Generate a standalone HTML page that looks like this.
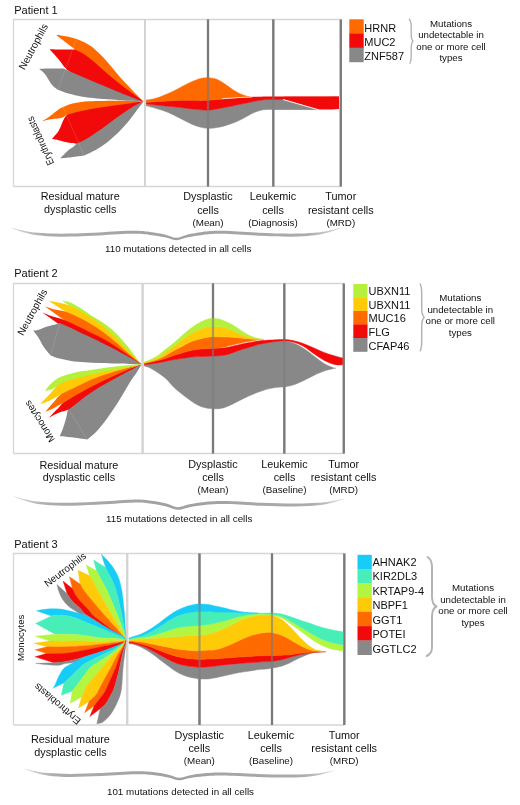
<!DOCTYPE html>
<html><head><meta charset="utf-8"><title>figure</title>
<style>
html,body{margin:0;padding:0;background:#fff;}
body{width:520px;height:805px;overflow:hidden;font-family:"Liberation Sans",sans-serif;}
svg{display:block;will-change:transform;}
text{font-family:"Liberation Sans",sans-serif;fill:#111;}
</style></head><body>
<svg width="520" height="805" viewBox="0 0 520 805">
<path d="M340.8 19.5V19.5H13.5V186.5" fill="none" stroke="#d6d6d6" stroke-width="1.3"/><path d="M13.5 186.5H340.8" fill="none" stroke="#d6d6d6" stroke-width="1.3"/><path d="M145 19.5V186.5" stroke="#d4d4d4" stroke-width="2"/><path d="M208 19.5V186.5" stroke="#7a7a7a" stroke-width="2.2"/><path d="M273.3 19.5V186.5" stroke="#7a7a7a" stroke-width="2.2"/><path d="M340.8 19.5V186.5" stroke="#7a7a7a" stroke-width="2.2"/>
<path d="M343.8 283.5V283.5H13.5V453.5" fill="none" stroke="#d6d6d6" stroke-width="1.3"/><path d="M13.5 453.5H343.8" fill="none" stroke="#d6d6d6" stroke-width="1.3"/><path d="M142.5 283.5V453.5" stroke="#d4d4d4" stroke-width="2"/><path d="M213 283.5V453.5" stroke="#7a7a7a" stroke-width="2.2"/><path d="M284.3 283.5V453.5" stroke="#7a7a7a" stroke-width="2.2"/><path d="M343.8 283.5V453.5" stroke="#7a7a7a" stroke-width="2.2"/>
<path d="M344.3 553.5V553.5H13.5V725.0" fill="none" stroke="#d6d6d6" stroke-width="1.3"/><path d="M13.5 725.0H344.3" fill="none" stroke="#d6d6d6" stroke-width="1.3"/><path d="M127 553.5V725.0" stroke="#d4d4d4" stroke-width="2"/><path d="M199.5 553.5V725.0" stroke="#7a7a7a" stroke-width="2.2"/><path d="M272 553.5V725.0" stroke="#7a7a7a" stroke-width="2.2"/><path d="M344.3 553.5V725.0" stroke="#7a7a7a" stroke-width="2.2"/>
<path d="M143.6 101.6C142.53 100.55 139.73 97.9 137.2 95.3C134.67 92.7 131.42 89.22 128.4 86C125.38 82.78 122.25 79.57 119.1 76C115.95 72.43 112.7 68.25 109.5 64.6C106.3 60.95 103.15 57.27 99.9 54.1C96.65 50.93 93.35 47.92 90 45.6C86.65 43.28 83.23 41.65 79.8 40.2C76.37 38.75 73.4 37.82 69.4 36.9C65.4 35.98 58.07 35.07 55.8 34.7L75 49.5C80 54.92 93.57 73.32 105 82C116.43 90.68 137.17 98.33 143.6 101.6Z" fill="#ff6a00"/>
<path d="M143.6 101.6C141.78 100.25 136.12 96.03 132.7 93.5C129.28 90.97 126.3 88.85 123.1 86.4C119.9 83.95 116.72 81.45 113.5 78.8C110.28 76.15 107.02 73.3 103.8 70.5C100.58 67.7 97.4 64.65 94.2 62C91 59.35 87.8 56.68 84.6 54.6C81.4 52.52 76.6 50.35 75 49.5C72.75 49.5 65.73 49.55 61.5 49.5C57.27 49.45 51.58 49.25 49.6 49.2C50.37 50.03 52.72 52.52 54.2 54.2C55.68 55.88 57.07 57.5 58.5 59.3C59.93 61.1 61.38 63.22 62.8 65C64.22 66.78 66.3 69.17 67 70C73.33 73.83 92.23 87.73 105 93C117.77 98.27 137.17 100.17 143.6 101.6Z" fill="#f20a0a"/>
<path d="M143.6 101.6C142.33 101.17 138.27 99.83 136 99C133.73 98.17 132.67 97.68 130 96.6C127.33 95.52 123.72 94.03 120 92.5C116.28 90.97 111.67 89.03 107.7 87.4C103.73 85.77 100.05 84.3 96.2 82.7C92.35 81.1 88.45 79.45 84.6 77.8C80.75 76.15 76.62 74.37 73.1 72.8C69.58 71.23 65.1 69.13 63.5 68.4C61 68.43 52.55 68.5 48.5 68.6C44.45 68.7 40.75 68.93 39.2 69C40.07 69.73 42.88 71.7 44.4 73.4C45.92 75.1 47.02 77.28 48.3 79.2C49.58 81.12 50.53 83.13 52.1 84.9C53.67 86.67 56.77 88.98 57.7 89.8C58.58 90.12 60.88 90.98 63 91.7C65.12 92.42 67.57 93.33 70.4 94.1C73.23 94.87 76.73 95.68 80 96.3C83.27 96.92 86.03 97.33 90 97.8C93.97 98.27 98.93 98.7 103.8 99.1C108.67 99.5 114.83 99.92 119.2 100.2C123.57 100.48 125.93 100.57 130 100.8C134.07 101.03 141.33 101.47 143.6 101.6Z" fill="#888888"/>
<path d="M143.6 101.6C136.33 104.33 111.23 110.95 100 118C88.77 125.05 81.52 138.5 76.2 143.9C70.88 149.3 70.8 147.97 68.1 150.4C65.4 152.83 61.35 157.15 60 158.5C61.92 158.3 67.47 157.8 71.5 157.3C75.53 156.8 82.08 155.8 84.2 155.5C86.32 154.45 92.85 151.58 96.9 149.2C100.95 146.82 104.65 144.27 108.5 141.2C112.35 138.13 116.55 134.27 120 130.8C123.45 127.33 126.5 123.67 129.2 120.4C131.9 117.13 133.8 114.33 136.2 111.2C138.6 108.07 142.37 103.2 143.6 101.6Z" fill="#888888"/>
<path d="M143.6 101.6C136.33 101.83 112.78 100.83 100 103C87.22 105.17 72.42 112.67 66.9 114.6C66.37 115.43 64.72 117.67 63.7 119.6C62.68 121.53 61.77 124.15 60.8 126.2C59.83 128.25 59.38 129.8 57.9 131.9C56.42 134 52.9 137.65 51.9 138.8C53.15 139.07 56.55 139.75 59.4 140.4C62.25 141.05 66.15 142.15 69 142.7C71.85 143.25 75.25 143.53 76.5 143.7C77.67 143.18 81.08 141.88 83.5 140.6C85.92 139.32 88.38 137.67 91 136C93.62 134.33 95.9 132.93 99.2 130.6C102.5 128.27 106.95 124.8 110.8 122C114.65 119.2 118.47 116.42 122.3 113.8C126.13 111.18 130.25 108.33 133.8 106.3C137.35 104.27 141.97 102.38 143.6 101.6Z" fill="#f20a0a"/>
<path d="M143.6 101.6C141.33 101.48 134.07 101.03 130 100.9C125.93 100.77 123.57 100.8 119.2 100.8C114.83 100.8 108.92 100.82 103.8 100.9C98.68 100.98 93.3 100.95 88.5 101.3C83.7 101.65 78.53 102.35 75 103C71.47 103.65 69.73 104.32 67.3 105.2C64.87 106.08 62.58 107.03 60.4 108.3C58.22 109.57 56.13 111.33 54.2 112.8C52.27 114.27 50.83 115.67 48.8 117.1C46.77 118.53 43.13 120.68 42 121.4C43.4 121.05 47.72 119.78 50.4 119.3C53.08 118.82 55.92 118.9 58.1 118.5C60.28 118.1 61.97 117.55 63.5 116.9C65.03 116.25 66.67 114.98 67.3 114.6C68.75 114.2 72.22 113.08 76 112.2C79.78 111.32 85.9 110.07 90 109.3C94.1 108.53 97.07 108.15 100.6 107.6C104.13 107.05 107.68 106.53 111.2 106C114.72 105.47 118.18 104.92 121.7 104.4C125.22 103.88 128.65 103.37 132.3 102.9C135.95 102.43 141.72 101.82 143.6 101.6Z" fill="#ff6a00"/>
<path d="M76.2 40L57.7 89.6" stroke="#fff" stroke-opacity=".12" stroke-width="1" fill="none"/>
<path d="M62.3 105.4L84.2 155.5" stroke="#fff" stroke-opacity=".12" stroke-width="1" fill="none"/>
<path d="M146.2 104C149.02 104.3 157.4 105.22 163.1 105.8C168.8 106.38 175.08 106.92 180.4 107.5C185.72 108.08 190.57 108.85 195 109.3C199.43 109.75 203.33 110.27 207 110.2C210.67 110.13 212.4 109.68 217 108.9C221.6 108.12 229.1 106.6 234.6 105.5C240.1 104.4 245.77 103.17 250 102.3C254.23 101.43 257 100.75 260 100.3C263 99.85 265.73 99.73 268 99.6C270.27 99.47 270.93 99.47 273.6 99.5C276.27 99.53 282.27 99.75 284 99.8L318 109.6C313.33 109.58 298.33 109.52 290 109.5C281.67 109.48 273 109.33 268 109.5C263 109.67 262.67 109.83 260 110.5C257.33 111.17 254.83 112.17 252 113.5C249.17 114.83 245.83 117.03 243 118.5C240.17 119.97 237.83 121.15 235 122.3C232.17 123.45 228.5 124.62 226 125.4C223.5 126.18 222 126.57 220 127C218 127.43 216.17 127.78 214 128C211.83 128.22 209.33 128.45 207 128.3C204.67 128.15 202.52 127.78 200 127.1C197.48 126.42 195.17 125.63 191.9 124.2C188.63 122.77 184.25 120.42 180.4 118.5C176.55 116.58 172.65 114.33 168.8 112.7C164.95 111.07 161.07 109.85 157.3 108.7C153.53 107.55 148.05 106.28 146.2 105.8Z" fill="#888888" stroke="#888888" stroke-width=".5"/>
<path d="M273.6 99.5L284 99.8L318 109.6L273.6 109.6Z" fill="#888888"/>
<path d="M146.2 102.3C149.02 102.12 157.4 101.53 163.1 101.2C168.8 100.87 173.08 100.45 180.4 100.3C187.72 100.15 199.4 100.55 207 100.3C214.6 100.05 220.5 99.22 226 98.8C231.5 98.38 235.92 98.07 240 97.8C244.08 97.53 246.83 97.35 250.5 97.2C254.17 97.05 258.25 96.97 262 96.9C265.75 96.83 260.17 96.82 273 96.8C285.83 96.78 328 96.8 339 96.8L284 99.6C282.27 99.58 276.27 99.5 273.6 99.5C270.93 99.5 270.27 99.47 268 99.6C265.73 99.73 263 99.85 260 100.3C257 100.75 254.23 101.43 250 102.3C245.77 103.17 240.1 104.4 234.6 105.5C229.1 106.6 221.6 108.12 217 108.9C212.4 109.68 210.67 110.13 207 110.2C203.33 110.27 199.43 109.75 195 109.3C190.57 108.85 185.72 108.08 180.4 107.5C175.08 106.92 168.8 106.38 163.1 105.8C157.4 105.22 149.02 104.3 146.2 104Z" fill="#f20a0a" stroke="#f20a0a" stroke-width=".5"/>
<path d="M284 96.8L339 96.8L339 108.9C333 109.4 326 109.6 318 109.4L284 99.6Z" fill="#f20a0a"/>
<path d="M146.2 100C146.83 99.93 148.15 99.97 150 99.6C151.85 99.23 154.17 98.87 157.3 97.8C160.43 96.73 164.95 94.93 168.8 93.2C172.65 91.47 176.87 89.18 180.4 87.4C183.93 85.62 187.15 83.83 190 82.5C192.85 81.17 195.33 80.13 197.5 79.4C199.67 78.67 201.33 78.37 203 78.1C204.67 77.83 206 77.78 207.5 77.8C209 77.82 210.37 77.92 212 78.2C213.63 78.48 214.97 78.42 217.3 79.5C219.63 80.58 223.12 82.82 226 84.7C228.88 86.58 231.72 89.07 234.6 90.8C237.48 92.53 240.65 94.07 243.3 95.1C245.95 96.13 249.3 96.68 250.5 97L250.5 97C248.75 97.07 244.08 97.17 240 97.4C235.92 97.63 231.5 97.92 226 98.4C220.5 98.88 214.6 99.98 207 100.3C199.4 100.62 187.72 100.15 180.4 100.3C173.08 100.45 168.8 100.87 163.1 101.2C157.4 101.53 149.02 102.12 146.2 102.3Z" fill="#ff6a00" stroke="#ff6a00" stroke-width=".5"/>
<path d="M283 99.5L319 109.9" stroke="#fff" stroke-width=".9" fill="none"/>
<path d="M222 98.8C232 98 242 97.3 252 96.9" stroke="#fff" stroke-width=".7" fill="none"/>
<path d="M141.5 364.2C141.05 363.72 140.2 363.03 138.8 361.3C137.4 359.57 135.2 356.58 133.1 353.8C131 351.02 129.28 348.25 126.2 344.6C123.12 340.95 118.45 335.55 114.6 331.9C110.75 328.25 106.95 325.38 103.1 322.7C99.25 320.02 94.9 317.98 91.5 315.8C88.1 313.62 86.08 311.78 82.7 309.6C79.32 307.42 74.67 304.23 71.2 302.7C67.73 301.17 63.45 300.78 61.9 300.4L75 310C80 315 93.92 330.97 105 340C116.08 349.03 135.42 360.17 141.5 364.2Z" fill="#b4f03c"/>
<path d="M141.5 364.2C140.42 363.08 137.55 360.08 135 357.5C132.45 354.92 129.6 352.2 126.2 348.7C122.8 345.2 118.45 340.25 114.6 336.5C110.75 332.75 106.95 329.27 103.1 326.2C99.25 323.13 94.9 320.38 91.5 318.1C88.1 315.82 86.08 314.48 82.7 312.5C79.32 310.52 75.05 307.83 71.2 306.2C67.35 304.57 63.45 303.67 59.6 302.7C55.75 301.73 50.02 300.78 48.1 300.4L66 312C72.5 317 92.42 333.3 105 342C117.58 350.7 135.42 360.5 141.5 364.2Z" fill="#ffca08"/>
<path d="M141.5 364.2C140.42 363.33 137.55 361.12 135 359C132.45 356.88 129.6 354.47 126.2 351.5C122.8 348.53 118.45 344.47 114.6 341.2C110.75 337.93 106.95 334.7 103.1 331.9C99.25 329.1 95.35 326.7 91.5 324.4C87.65 322.1 84.17 320.18 80 318.1C75.83 316.02 70.67 313.32 66.5 311.9C62.33 310.48 58.65 310.55 55 309.6C51.35 308.65 46.33 306.77 44.6 306.2L64 320C70.83 324.67 92.08 340.63 105 348C117.92 355.37 135.42 361.5 141.5 364.2Z" fill="#ff6a00"/>
<path d="M141.5 364.2C140.42 363.5 137.55 361.73 135 360C132.45 358.27 129.6 356.17 126.2 353.8C122.8 351.43 118.45 348.3 114.6 345.8C110.75 343.3 106.95 340.92 103.1 338.8C99.25 336.68 95.35 335.02 91.5 333.1C87.65 331.18 84.55 329.48 80 327.3C75.45 325.12 68.75 321.8 64.2 320C59.65 318.2 56.35 317.77 52.7 316.5C49.05 315.23 44.03 313.08 42.3 312.4L60 325C67.5 329.5 91.42 345.47 105 352C118.58 358.53 135.42 362.17 141.5 364.2Z" fill="#f20a0a"/>
<path d="M141.5 364.2C140.48 363.63 137.95 362.23 135.4 360.8C132.85 359.37 129.67 357.53 126.2 355.6C122.73 353.67 118.45 351.22 114.6 349.2C110.75 347.18 106.95 345.42 103.1 343.5C99.25 341.58 95.35 339.53 91.5 337.7C87.65 335.87 83.38 334.1 80 332.5C76.62 330.9 74.6 329.68 71.2 328.1C67.8 326.52 61.53 323.85 59.6 323C57.68 323.97 51.57 325.27 48.1 326.3C44.63 327.33 41.3 328.98 38.8 329.7C36.3 330.42 34.05 330.45 33.1 330.6C34.05 331.87 37.07 335.53 38.8 338.2C40.53 340.87 41.55 343.73 43.5 346.6C45.45 349.47 49.33 353.93 50.5 355.4C52.02 355.93 56.15 357.67 59.6 358.6C63.05 359.53 66.97 360.38 71.2 361C75.43 361.62 80.2 361.95 85 362.3C89.8 362.65 94.62 362.88 100 363.1C105.38 363.32 112.3 363.47 117.3 363.6C122.3 363.73 125.97 363.8 130 363.9C134.03 364 139.58 364.15 141.5 364.2Z" fill="#888888"/>
<path d="M141.5 364.2C137.47 366 125.18 371.03 117.3 375C109.42 378.97 99.97 384.5 94.2 388C88.43 391.5 87.07 392.67 82.7 396C78.33 399.33 70.45 406 68 408C67.75 409.42 67.22 413.47 66.5 416.5C65.78 419.53 64.82 422.9 63.7 426.2C62.58 429.5 60.45 434.62 59.8 436.3C61.7 436.47 66.62 436.75 71.2 437.3C75.78 437.85 84.62 439.22 87.3 439.6C88.83 438.25 93.22 435.02 96.5 431.5C99.78 427.98 103.33 423.5 107 418.5C110.67 413.5 114.75 407.42 118.5 401.5C122.25 395.58 126.37 388 129.5 383C132.63 378 135.3 374.63 137.3 371.5C139.3 368.37 140.8 365.42 141.5 364.2Z" fill="#888888"/>
<path d="M141.5 364.2C135.55 366.42 115.6 373.37 105.8 377.5C96 381.63 89.25 385.33 82.7 389C76.15 392.67 70.48 396.43 66.5 399.5C62.52 402.57 60.88 405.28 58.8 407.4C56.72 409.52 55.6 410.52 54 412.2C52.4 413.88 50 416.62 49.2 417.5C50.8 416.7 55.67 413.98 58.8 412.7C61.93 411.42 65.58 410.92 68 409.8C70.42 408.68 71.3 407.52 73.3 406C75.3 404.48 76.52 403.28 80 400.7C83.48 398.12 87.98 394.4 94.2 390.5C100.42 386.6 109.42 381.68 117.3 377.3C125.18 372.92 137.47 366.38 141.5 364.2Z" fill="#f20a0a"/>
<path d="M141.5 364.2C133.62 366.25 105.92 372.87 94.2 376.5C82.48 380.13 77.1 382.7 71.2 386C65.3 389.3 61.5 393.85 58.8 396.3C56.1 398.75 56.43 399.08 55 400.7C53.57 402.32 51.8 404.17 50.2 406C48.6 407.83 46.2 410.75 45.4 411.7C46.83 411.07 50.95 409.42 54 407.9C57.05 406.38 60.48 404.45 63.7 402.6C66.92 400.75 70.13 398.65 73.3 396.8C76.47 394.95 77.28 394.37 82.7 391.5C88.12 388.63 98.12 383.32 105.8 379.6C113.48 375.88 122.85 371.77 128.8 369.2C134.75 366.63 139.38 365.03 141.5 364.2Z" fill="#ff6a00"/>
<path d="M141.5 364.2C133.62 365.5 105.92 369.78 94.2 372C82.48 374.22 76.97 375.75 71.2 377.5C65.43 379.25 62.5 380.5 59.6 382.5C56.7 384.5 55.82 387.17 53.8 389.5C51.78 391.83 49.83 394.03 47.5 396.5C45.17 398.97 41.08 403 39.8 404.3C41.37 403.7 46.03 402.18 49.2 400.7C52.37 399.22 55.58 397.08 58.8 395.4C62.02 393.72 64.97 392.33 68.5 390.6C72.03 388.87 75.72 387.02 80 385C84.28 382.98 87.98 380.87 94.2 378.5C100.42 376.13 109.42 373.18 117.3 370.8C125.18 368.42 137.47 365.3 141.5 364.2Z" fill="#ffca08"/>
<path d="M141.5 364.2C139.58 364.32 134.03 364.55 130 364.9C125.97 365.25 123.27 365.55 117.3 366.3C111.33 367.05 99.97 368.6 94.2 369.4C88.43 370.2 86.53 370.43 82.7 371.1C78.87 371.77 75.05 372.37 71.2 373.4C67.35 374.43 63.07 375.5 59.6 377.3C56.13 379.1 52.9 381.88 50.4 384.2C47.9 386.52 45.57 390.03 44.6 391.2C45.95 390.8 50.2 389.97 52.7 388.8C55.2 387.63 56.52 385.73 59.6 384.2C62.68 382.67 65.43 381.33 71.2 379.6C76.97 377.87 86.52 375.53 94.2 373.8C101.88 372.07 109.42 370.8 117.3 369.2C125.18 367.6 137.47 365.03 141.5 364.2Z" fill="#b4f03c"/>
<path d="M59.6 323.5L50.5 355.4" stroke="#fff" stroke-opacity=".12" stroke-width="1" fill="none"/>
<path d="M68 408.5L87.3 439.6" stroke="#fff" stroke-opacity=".12" stroke-width="1" fill="none"/>
<path d="M144.3 364.5C145.03 364.45 146.53 364.45 148.7 364.2C150.87 363.95 154.42 363.5 157.3 363C160.18 362.5 163.12 361.78 166 361.2C168.88 360.62 171.72 359.98 174.6 359.5C177.48 359.02 180.42 358.73 183.3 358.3C186.18 357.87 189.02 357.18 191.9 356.9C194.78 356.62 197.08 356.73 200.6 356.6C204.12 356.47 209.15 356.32 213 356.1C216.85 355.88 220.48 355.83 223.7 355.3C226.92 354.77 229.42 353.82 232.3 352.9C235.18 351.98 238.12 350.75 241 349.8C243.88 348.85 246.72 348.07 249.6 347.2C252.48 346.33 255.42 345.32 258.3 344.6C261.18 343.88 264.02 343.42 266.9 342.9C269.78 342.38 272.68 341.77 275.6 341.5C278.52 341.23 281.37 341 284.4 341.3C287.43 341.6 290.57 342.1 293.8 343.3C297.03 344.5 300.45 346.38 303.8 348.5C307.15 350.62 310.53 353.5 313.9 356C317.27 358.5 320.87 361.58 324 363.5C327.13 365.42 330.73 366.72 332.7 367.5C334.67 368.28 335.28 368.08 335.8 368.2L335.8 368.2C335.28 368.28 334.67 368.22 332.7 368.7C330.73 369.18 327.13 369.98 324 371.1C320.87 372.22 317.27 373.83 313.9 375.4C310.53 376.97 307.15 378.93 303.8 380.5C300.45 382.07 297.03 383.75 293.8 384.8C290.57 385.85 287.47 386.33 284.4 386.8C281.33 387.27 278.95 387 275.4 387.6C271.85 388.2 267.72 388.92 263.1 390.4C258.48 391.88 252.83 394.2 247.7 396.5C242.57 398.8 236.4 402.3 232.3 404.2C228.2 406.1 226.32 407.13 223.1 407.9C219.88 408.67 216.6 409 213 408.8C209.4 408.6 204.95 407.87 201.5 406.7C198.05 405.53 195.37 403.75 192.3 401.8C189.23 399.85 186.18 397.42 183.1 395C180.02 392.58 176.5 389.87 173.8 387.3C171.1 384.73 169 381.65 166.9 379.6C164.8 377.55 163.12 376.43 161.2 375C159.28 373.57 157.33 372.22 155.4 371C153.47 369.78 151.45 368.53 149.6 367.7C147.75 366.87 145.18 366.28 144.3 366Z" fill="#888888" stroke="#888888" stroke-width=".5"/>
<path d="M144.3 363.5C146.47 363.03 153.68 361.57 157.3 360.7C160.92 359.83 163.12 359.22 166 358.3C168.88 357.38 171.72 356.15 174.6 355.2C177.48 354.25 180.42 353.42 183.3 352.6C186.18 351.78 189.02 350.88 191.9 350.3C194.78 349.72 197.08 349.38 200.6 349.1C204.12 348.82 209.15 348.78 213 348.6C216.85 348.42 220.48 348.38 223.7 348C226.92 347.62 229.42 346.93 232.3 346.3C235.18 345.67 238.12 344.85 241 344.2C243.88 343.55 246.72 342.92 249.6 342.4C252.48 341.88 255.42 341.45 258.3 341.1C261.18 340.75 262.55 340.55 266.9 340.3C271.25 340.05 279.92 339.52 284.4 339.6C288.88 339.68 290.57 340.12 293.8 340.8C297.03 341.48 300.45 342.5 303.8 343.7C307.15 344.9 310.53 346.55 313.9 348C317.27 349.45 320.63 351.12 324 352.4C327.37 353.68 330.97 354.75 334.1 355.7C337.23 356.65 341.35 357.7 342.8 358.1L342.8 364.7C342.08 364.73 340.18 365.03 338.5 364.9C336.82 364.77 335.12 364.67 332.7 363.9C330.28 363.13 327.13 361.98 324 360.3C320.87 358.62 317.27 356.08 313.9 353.8C310.53 351.52 307.15 348.52 303.8 346.6C300.45 344.68 297.03 343.23 293.8 342.3C290.57 341.37 287.43 341.13 284.4 341C281.37 340.87 278.52 341.18 275.6 341.5C272.68 341.82 269.78 342.38 266.9 342.9C264.02 343.42 261.18 343.88 258.3 344.6C255.42 345.32 252.48 346.33 249.6 347.2C246.72 348.07 243.88 348.85 241 349.8C238.12 350.75 235.18 351.98 232.3 352.9C229.42 353.82 226.92 354.77 223.7 355.3C220.48 355.83 216.85 355.88 213 356.1C209.15 356.32 204.12 356.47 200.6 356.6C197.08 356.73 194.78 356.62 191.9 356.9C189.02 357.18 186.18 357.87 183.3 358.3C180.42 358.73 177.48 359.02 174.6 359.5C171.72 359.98 168.88 360.62 166 361.2C163.12 361.78 160.18 362.5 157.3 363C154.42 363.5 150.87 363.95 148.7 364.2C146.53 364.45 145.03 364.45 144.3 364.5Z" fill="#f20a0a" stroke="#f20a0a" stroke-width=".5"/>
<path d="M144.3 363C146.47 362.42 153.68 360.8 157.3 359.5C160.92 358.2 163.12 356.73 166 355.2C168.88 353.67 171.72 351.88 174.6 350.3C177.48 348.72 180.42 347.2 183.3 345.7C186.18 344.2 189.02 342.47 191.9 341.3C194.78 340.13 197.72 339.42 200.6 338.7C203.48 337.98 206.32 337.32 209.2 337C212.08 336.68 214.05 336.75 217.9 336.8C221.75 336.85 228.45 337.1 232.3 337.3C236.15 337.5 238.12 337.73 241 338C243.88 338.27 246.72 338.67 249.6 338.9C252.48 339.13 255.98 339.3 258.3 339.4C260.62 339.5 262.63 339.48 263.5 339.5L263.5 339.5C262.63 339.57 260.62 339.62 258.3 339.9C255.98 340.18 252.48 340.7 249.6 341.2C246.72 341.7 243.88 342.25 241 342.9C238.12 343.55 235.18 344.38 232.3 345.1C229.42 345.82 226.92 346.67 223.7 347.2C220.48 347.73 216.85 347.98 213 348.3C209.15 348.62 204.12 348.77 200.6 349.1C197.08 349.43 194.78 349.72 191.9 350.3C189.02 350.88 186.18 351.78 183.3 352.6C180.42 353.42 177.48 354.25 174.6 355.2C171.72 356.15 168.88 357.38 166 358.3C163.12 359.22 160.92 359.83 157.3 360.7C153.68 361.57 146.47 363.03 144.3 363.5Z" fill="#ff6a00" stroke="#ff6a00" stroke-width=".5"/>
<path d="M144.3 362.5C146.47 361.72 153.68 359.6 157.3 357.8C160.92 356 163.12 353.72 166 351.7C168.88 349.68 171.72 347.87 174.6 345.7C177.48 343.53 180.42 340.87 183.3 338.7C186.18 336.53 189.02 334.33 191.9 332.7C194.78 331.07 197.72 329.92 200.6 328.9C203.48 327.88 206.32 326.98 209.2 326.6C212.08 326.22 215.48 326.48 217.9 326.6C220.32 326.72 221.3 326.67 223.7 327.3C226.1 327.93 229.42 329.25 232.3 330.4C235.18 331.55 238.12 333.05 241 334.2C243.88 335.35 246.72 336.5 249.6 337.3C252.48 338.1 255.98 338.63 258.3 339C260.62 339.37 262.63 339.42 263.5 339.5L263.5 339.5C262.63 339.48 260.62 339.5 258.3 339.4C255.98 339.3 252.48 339.13 249.6 338.9C246.72 338.67 243.88 338.27 241 338C238.12 337.73 236.15 337.5 232.3 337.3C228.45 337.1 221.75 336.85 217.9 336.8C214.05 336.75 212.08 336.68 209.2 337C206.32 337.32 203.48 337.98 200.6 338.7C197.72 339.42 194.78 340.13 191.9 341.3C189.02 342.47 186.18 344.2 183.3 345.7C180.42 347.2 177.48 348.72 174.6 350.3C171.72 351.88 168.88 353.67 166 355.2C163.12 356.73 160.92 358.2 157.3 359.5C153.68 360.8 146.47 362.42 144.3 363Z" fill="#ffca08" stroke="#ffca08" stroke-width=".5"/>
<path d="M144.3 362C145.03 361.73 146.53 361.4 148.7 360.4C150.87 359.4 154.42 357.88 157.3 356C160.18 354.12 163.12 351.4 166 349.1C168.88 346.8 171.72 344.65 174.6 342.2C177.48 339.75 180.42 336.85 183.3 334.4C186.18 331.95 189.02 329.57 191.9 327.5C194.78 325.43 197.72 323.45 200.6 322C203.48 320.55 207.13 319.38 209.2 318.8C211.27 318.22 210.98 318.35 213 318.5C215.02 318.65 218.08 318.67 221.3 319.7C224.52 320.73 229.02 322.92 232.3 324.7C235.58 326.48 238.12 328.58 241 330.4C243.88 332.22 246.72 334.23 249.6 335.6C252.48 336.97 255.98 337.95 258.3 338.6C260.62 339.25 262.63 339.35 263.5 339.5L263.5 339.5C262.63 339.42 260.62 339.37 258.3 339C255.98 338.63 252.48 338.1 249.6 337.3C246.72 336.5 243.88 335.35 241 334.2C238.12 333.05 235.18 331.55 232.3 330.4C229.42 329.25 226.1 327.93 223.7 327.3C221.3 326.67 220.32 326.72 217.9 326.6C215.48 326.48 212.08 326.22 209.2 326.6C206.32 326.98 203.48 327.88 200.6 328.9C197.72 329.92 194.78 331.07 191.9 332.7C189.02 334.33 186.18 336.53 183.3 338.7C180.42 340.87 177.48 343.53 174.6 345.7C171.72 347.87 168.88 349.68 166 351.7C163.12 353.72 160.92 356 157.3 357.8C153.68 359.6 146.47 361.72 144.3 362.5Z" fill="#b4f03c" stroke="#b4f03c" stroke-width=".5"/>
<path d="M126.3 640.3C126.2 639.08 126.02 637.63 125.7 633C125.38 628.37 124.98 619.17 124.4 612.5C123.82 605.83 122.78 597.37 122.2 593C121.62 588.63 121.4 588.57 120.9 586.3C120.4 584.03 120 581.7 119.2 579.4C118.4 577.1 117.33 574.8 116.1 572.5C114.87 570.2 113.38 567.77 111.8 565.6C110.22 563.43 108.33 561.38 106.6 559.5C104.87 557.62 102.27 555.17 101.4 554.3L105.6 567.5C106.07 568.48 107.38 571.42 108.4 573.4C109.42 575.38 110.4 576.47 111.7 579.4C113 582.33 114.62 585.48 116.2 591C117.78 596.52 119.83 606 121.2 612.5C122.57 619 123.55 625.37 124.4 630C125.25 634.63 125.98 638.58 126.3 640.3Z" fill="#17cdf8" stroke="#17cdf8" stroke-width=".4"/>
<path d="M126.3 640.3C125.98 638.58 125.25 634.63 124.4 630C123.55 625.37 122.57 619 121.2 612.5C119.83 606 117.78 596.52 116.2 591C114.62 585.48 113 582.33 111.7 579.4C110.4 576.47 109.42 575.38 108.4 573.4C107.38 571.42 106.07 568.48 105.6 567.5L93.7 560L96.5 570.8C97.02 571.8 98.45 574.65 99.6 576.8C100.75 578.95 102.2 581.5 103.4 583.7C104.6 585.9 104.63 585.2 106.8 590C108.97 594.8 113.7 605.83 116.4 612.5C119.1 619.17 121.35 625.37 123 630C124.65 634.63 125.75 638.58 126.3 640.3Z" fill="#48eeb8" stroke="#48eeb8" stroke-width=".4"/>
<path d="M126.3 640.3C125.75 638.58 124.65 634.63 123 630C121.35 625.37 119.1 619.17 116.4 612.5C113.7 605.83 108.97 594.8 106.8 590C104.63 585.2 104.6 585.9 103.4 583.7C102.2 581.5 100.75 578.95 99.6 576.8C98.45 574.65 97.02 571.8 96.5 570.8L86.3 565.1L89.5 575.7C90.03 576.6 91.48 578.88 92.7 581.1C93.92 583.32 93.85 583.77 96.8 589C99.75 594.23 106.37 605.67 110.4 612.5C114.43 619.33 118.35 625.37 121 630C123.65 634.63 125.42 638.58 126.3 640.3Z" fill="#b4f541" stroke="#b4f541" stroke-width=".4"/>
<path d="M126.3 640.3C125.42 638.58 123.65 634.63 121 630C118.35 625.37 114.43 619.33 110.4 612.5C106.37 605.67 99.75 594.23 96.8 589C93.85 583.77 93.92 583.32 92.7 581.1C91.48 578.88 90.03 576.6 89.5 575.7L78.1 570.2L80 584C80.6 585.02 82.33 588.22 83.6 590.1C84.87 591.98 85.95 593.28 87.6 595.3C89.25 597.32 91.07 599.33 93.5 602.2C95.93 605.07 98.15 607.87 102.2 612.5C106.25 617.13 113.78 625.37 117.8 630C121.82 634.63 124.88 638.58 126.3 640.3Z" fill="#ffca08" stroke="#ffca08" stroke-width=".4"/>
<path d="M126.3 640.3C124.88 638.58 121.82 634.63 117.8 630C113.78 625.37 106.25 617.13 102.2 612.5C98.15 607.87 95.93 605.07 93.5 602.2C91.07 599.33 89.25 597.32 87.6 595.3C85.95 593.28 84.87 591.98 83.6 590.1C82.33 588.22 80.6 585.02 80 584L69.5 576.7L72.4 588.6C72.92 589.67 74.3 593.03 75.5 595C76.7 596.97 78.22 598.75 79.6 600.4C80.98 602.05 82.4 603.43 83.8 604.9C85.2 606.37 86.48 607.48 88 609.2C89.52 610.92 90.65 613.07 92.9 615.2C95.15 617.33 98.6 619.75 101.5 622C104.4 624.25 107.38 626.65 110.3 628.7C113.22 630.75 116.33 632.37 119 634.3C121.67 636.23 125.08 639.3 126.3 640.3Z" fill="#ff6a00" stroke="#ff6a00" stroke-width=".4"/>
<path d="M126.3 640.3C125.08 639.3 121.67 636.23 119 634.3C116.33 632.37 113.22 630.75 110.3 628.7C107.38 626.65 104.4 624.25 101.5 622C98.6 619.75 95.15 617.33 92.9 615.2C90.65 613.07 89.52 610.92 88 609.2C86.48 607.48 85.2 606.37 83.8 604.9C82.4 603.43 80.98 602.05 79.6 600.4C78.22 598.75 76.7 596.97 75.5 595C74.3 593.03 72.92 589.67 72.4 588.6L63 581L67.2 593.8C67.75 594.67 69.25 597.38 70.5 599C71.75 600.62 73.15 602.02 74.7 603.5C76.25 604.98 78.17 606.25 79.8 607.9C81.43 609.55 82.27 611.53 84.5 613.4C86.73 615.27 90.32 617.22 93.2 619.1C96.08 620.98 98.92 622.83 101.8 624.7C104.68 626.57 107.88 628.58 110.5 630.3C113.12 632.02 114.87 633.33 117.5 635C120.13 636.67 124.83 639.42 126.3 640.3Z" fill="#f20a0a" stroke="#f20a0a" stroke-width=".4"/>
<path d="M126.3 640.3C124.83 639.42 120.13 636.67 117.5 635C114.87 633.33 113.12 632.02 110.5 630.3C107.88 628.58 104.68 626.57 101.8 624.7C98.92 622.83 96.08 620.98 93.2 619.1C90.32 617.22 86.73 615.27 84.5 613.4C82.27 611.53 81.43 609.55 79.8 607.9C78.17 606.25 76.25 604.98 74.7 603.5C73.15 602.02 71.75 600.62 70.5 599C69.25 597.38 67.75 594.67 67.2 593.8L56.9 584.5C57.2 585.58 57.98 588.92 58.7 591C59.42 593.08 60.2 595.13 61.2 597C62.2 598.87 63.4 600.62 64.7 602.2C66 603.78 67.85 605.43 69 606.5C70.15 607.57 68.93 606.85 71.6 608.6C74.27 610.35 81.32 614.6 85 617C88.68 619.4 90.82 621.17 93.7 623C96.58 624.83 98.58 625.75 102.3 628C106.02 630.25 112 634.45 116 636.5C120 638.55 124.58 639.67 126.3 640.3Z" fill="#888888" stroke="#888888" stroke-width=".4"/>
<path d="M126.3 640.3C125.77 639.63 125.57 637.97 123.1 636.3C120.63 634.63 114.97 632.13 111.5 630.3C108.03 628.47 105.27 626.97 102.3 625.3C99.33 623.63 96.58 622.02 93.7 620.3C90.82 618.58 88.12 616.35 85 615C81.88 613.65 77.68 612.9 75 612.2C72.32 611.5 71.35 611.32 68.9 610.8C66.45 610.28 63.18 609.45 60.3 609.1C57.42 608.75 54.48 608.63 51.6 608.7C48.72 608.77 45.52 609.15 43 609.5C40.48 609.85 37.58 610.58 36.5 610.8L51.6 616C52.33 615.85 53.83 615.17 56 615.1C58.17 615.03 61.43 615.17 64.6 615.6C67.77 616.03 71.6 616.63 75 617.7C78.4 618.77 81.88 620.7 85 622C88.12 623.3 90.82 624.33 93.7 625.5C96.58 626.67 99.33 627.82 102.3 629C105.27 630.18 108.03 631.18 111.5 632.6C114.97 634.02 120.63 636.22 123.1 637.5C125.57 638.78 125.77 639.83 126.3 640.3Z" fill="#17cdf8" stroke="#17cdf8" stroke-width=".4"/>
<path d="M126.3 640.3C125.77 639.83 125.57 638.78 123.1 637.5C120.63 636.22 114.97 634.02 111.5 632.6C108.03 631.18 105.27 630.18 102.3 629C99.33 627.82 96.58 626.67 93.7 625.5C90.82 624.33 88.12 623.3 85 622C81.88 620.7 78.4 618.77 75 617.7C71.6 616.63 67.77 616.03 64.6 615.6C61.43 615.17 58.17 615.03 56 615.1C53.83 615.17 52.33 615.85 51.6 616L35.6 623.4L55.1 634.2C56.68 634.2 61.28 634.13 64.6 634.2C67.92 634.27 71.1 634.3 75 634.6C78.9 634.9 83.83 635.47 88 636C92.17 636.53 96.08 637.45 100 637.8C103.92 638.15 107.65 637.82 111.5 638.1C115.35 638.38 120.63 639.13 123.1 639.5C125.57 639.87 125.77 640.17 126.3 640.3Z" fill="#48eeb8" stroke="#48eeb8" stroke-width=".4"/>
<path d="M126.3 640.3C125.77 640.17 125.57 639.87 123.1 639.5C120.63 639.13 115.35 638.38 111.5 638.1C107.65 637.82 103.92 638.15 100 637.8C96.08 637.45 92.17 636.53 88 636C83.83 635.47 78.9 634.9 75 634.6C71.1 634.3 67.92 634.27 64.6 634.2C61.28 634.13 56.68 634.2 55.1 634.2L35.2 636.3L49.9 641.1C51.63 641.13 56.12 641.3 60.3 641.3C64.48 641.3 70.38 641.1 75 641.1C79.62 641.1 83.83 641.2 88 641.3C92.17 641.4 96.08 641.75 100 641.7C103.92 641.65 107.65 641.18 111.5 641C115.35 640.82 120.63 640.72 123.1 640.6C125.57 640.48 125.77 640.35 126.3 640.3Z" fill="#b4f541" stroke="#b4f541" stroke-width=".4"/>
<path d="M126.3 640.3C125.77 640.35 125.57 640.48 123.1 640.6C120.63 640.72 115.35 640.82 111.5 641C107.65 641.18 103.92 641.65 100 641.7C96.08 641.75 92.17 641.4 88 641.3C83.83 641.2 79.62 641.1 75 641.1C70.38 641.1 64.48 641.3 60.3 641.3C56.12 641.3 51.63 641.13 49.9 641.1L33.9 643.3L47.2 646.8C49.1 646.83 54.45 647.03 58.6 647C62.75 646.97 67.2 646.85 72.1 646.6C77 646.35 83.35 645.9 88 645.5C92.65 645.1 96.08 644.63 100 644.2C103.92 643.77 107.65 643.35 111.5 642.9C115.35 642.45 120.63 641.93 123.1 641.5C125.57 641.07 125.77 640.5 126.3 640.3Z" fill="#ffca08" stroke="#ffca08" stroke-width=".4"/>
<path d="M126.3 640.3C125.77 640.5 125.57 641.07 123.1 641.5C120.63 641.93 115.35 642.45 111.5 642.9C107.65 643.35 103.92 643.77 100 644.2C96.08 644.63 92.65 645.1 88 645.5C83.35 645.9 77 646.35 72.1 646.6C67.2 646.85 62.75 646.97 58.6 647C54.45 647.03 49.1 646.83 47.2 646.8L35.1 649.8L46.5 653.6C48.52 653.6 54.33 653.78 58.6 653.6C62.87 653.42 67.2 653.18 72.1 652.5C77 651.82 83.35 650.42 88 649.5C92.65 648.58 96.08 647.78 100 647C103.92 646.22 107.65 645.62 111.5 644.8C115.35 643.98 120.63 642.85 123.1 642.1C125.57 641.35 125.77 640.6 126.3 640.3Z" fill="#ff6a00" stroke="#ff6a00" stroke-width=".4"/>
<path d="M126.3 640.3C125.77 640.6 125.57 641.35 123.1 642.1C120.63 642.85 115.35 643.98 111.5 644.8C107.65 645.62 103.92 646.22 100 647C96.08 647.78 92.65 648.58 88 649.5C83.35 650.42 77 651.82 72.1 652.5C67.2 653.18 62.87 653.42 58.6 653.6C54.33 653.78 48.52 653.6 46.5 653.6L35.1 656.8L53.9 662.8C55.82 662.58 61.7 662.1 65.4 661.5C69.1 660.9 72.33 660.12 76.1 659.2C79.87 658.28 84.02 657.15 88 656C91.98 654.85 96.08 653.65 100 652.3C103.92 650.95 107.65 649.4 111.5 647.9C115.35 646.4 120.63 644.57 123.1 643.3C125.57 642.03 125.77 640.8 126.3 640.3Z" fill="#f20a0a" stroke="#f20a0a" stroke-width=".4"/>
<path d="M126.3 640.3C125.77 640.8 125.57 642.03 123.1 643.3C120.63 644.57 115.35 646.4 111.5 647.9C107.65 649.4 103.92 650.95 100 652.3C96.08 653.65 91.98 654.85 88 656C84.02 657.15 79.87 658.28 76.1 659.2C72.33 660.12 69.1 660.9 65.4 661.5C61.7 662.1 55.82 662.58 53.9 662.8L35.8 663.3C37.37 663.52 41.4 664.27 45.2 664.6C49 664.93 55.3 665.47 58.6 665.3C61.9 665.13 62.1 664.15 65 663.6C67.9 663.05 72.17 662.85 76 662C79.83 661.15 84 659.83 88 658.5C92 657.17 96.08 655.58 100 654C103.92 652.42 107.65 650.67 111.5 649C115.35 647.33 120.63 645.45 123.1 644C125.57 642.55 125.77 640.92 126.3 640.3Z" fill="#888888" stroke="#888888" stroke-width=".4"/>
<path d="M126.3 640.3C125.77 640.8 125.57 642.03 123.1 643.3C120.63 644.57 115.35 646.45 111.5 647.9C107.65 649.35 104.42 650.53 100 652C95.58 653.47 88.33 655.55 85 656.7C81.67 657.85 82.5 657.62 80 658.9C77.5 660.18 72.6 662.92 70 664.4C67.4 665.88 65.97 666.38 64.4 667.8C62.83 669.22 61.72 671.08 60.6 672.9C59.48 674.72 58.67 676.62 57.7 678.7C56.73 680.78 55.6 683.8 54.8 685.4C54 687 53.22 687.82 52.9 688.3L63.9 683C64.78 682.2 67.52 679.78 69.2 678.2C70.88 676.62 72.2 675.23 74 673.5C75.8 671.77 78.17 669.45 80 667.8C81.83 666.15 81.67 665.57 85 663.6C88.33 661.63 95.58 658.18 100 656C104.42 653.82 108.17 652.25 111.5 650.5C114.83 648.75 117.53 647.2 120 645.5C122.47 643.8 125.25 641.17 126.3 640.3Z" fill="#17cdf8" stroke="#17cdf8" stroke-width=".4"/>
<path d="M126.3 640.3C125.25 641.17 122.47 643.8 120 645.5C117.53 647.2 114.83 648.75 111.5 650.5C108.17 652.25 104.42 653.82 100 656C95.58 658.18 88.33 661.63 85 663.6C81.67 665.57 81.83 666.15 80 667.8C78.17 669.45 75.8 671.77 74 673.5C72.2 675.23 70.88 676.62 69.2 678.2C67.52 679.78 64.78 682.2 63.9 683L61.3 695.2L72.1 691.3C72.75 690.5 74.68 688.23 76 686.5C77.32 684.77 78.5 682.92 80 680.9C81.5 678.88 83.3 676.63 85 674.4C86.7 672.17 87.7 669.73 90.2 667.5C92.7 665.27 96.45 663.33 100 661C103.55 658.67 108.17 655.83 111.5 653.5C114.83 651.17 117.53 649.2 120 647C122.47 644.8 125.25 641.42 126.3 640.3Z" fill="#48eeb8" stroke="#48eeb8" stroke-width=".4"/>
<path d="M126.3 640.3C125.25 641.42 122.47 644.8 120 647C117.53 649.2 114.83 651.17 111.5 653.5C108.17 655.83 103.55 658.67 100 661C96.45 663.33 92.7 665.27 90.2 667.5C87.7 669.73 86.7 672.17 85 674.4C83.3 676.63 81.5 678.88 80 680.9C78.5 682.92 77.32 684.77 76 686.5C74.68 688.23 72.75 690.5 72.1 691.3L70.4 703.2L81.6 697.1C82.33 695.5 84.1 690.6 86 687.5C87.9 684.4 90.28 681.83 93 678.5C95.72 675.17 98.8 671.67 102.3 667.5C105.8 663.33 110.88 656.83 114 653.5C117.12 650.17 118.95 649.7 121 647.5C123.05 645.3 125.42 641.5 126.3 640.3Z" fill="#b4f541" stroke="#b4f541" stroke-width=".4"/>
<path d="M126.3 640.3C125.42 641.5 123.05 645.3 121 647.5C118.95 649.7 117.12 650.17 114 653.5C110.88 656.83 105.8 663.33 102.3 667.5C98.8 671.67 95.72 675.17 93 678.5C90.28 681.83 87.9 684.4 86 687.5C84.1 690.6 82.33 695.5 81.6 697.1L78.6 708L89 701.5C90.15 700.42 94.27 696.92 95.9 695C97.53 693.08 97.45 692.5 98.8 690C100.15 687.5 101.97 683.75 104 680C106.03 676.25 108.67 671.83 111 667.5C113.33 663.17 116.08 657.33 118 654C119.92 650.67 121.12 649.78 122.5 647.5C123.88 645.22 125.67 641.5 126.3 640.3Z" fill="#ffca08" stroke="#ffca08" stroke-width=".4"/>
<path d="M126.3 640.3C125.67 641.5 123.88 645.22 122.5 647.5C121.12 649.78 119.92 650.67 118 654C116.08 657.33 113.33 663.17 111 667.5C108.67 671.83 106.03 676.25 104 680C101.97 683.75 100.15 687.5 98.8 690C97.45 692.5 97.53 693.08 95.9 695C94.27 696.92 90.15 700.42 89 701.5L84.7 712.7L94.2 705.8C95.6 704 100.67 697.63 102.6 695C104.53 692.37 104.57 692.42 105.8 690C107.03 687.58 108.35 684.25 110 680.5C111.65 676.75 113.95 671.92 115.7 667.5C117.45 663.08 119.2 657.33 120.5 654C121.8 650.67 122.53 649.78 123.5 647.5C124.47 645.22 125.83 641.5 126.3 640.3Z" fill="#ff6a00" stroke="#ff6a00" stroke-width=".4"/>
<path d="M126.3 640.3C125.83 641.5 124.47 645.22 123.5 647.5C122.53 649.78 121.8 650.67 120.5 654C119.2 657.33 117.45 663.08 115.7 667.5C113.95 671.92 111.65 676.75 110 680.5C108.35 684.25 107.03 687.58 105.8 690C104.57 692.42 104.53 692.37 102.6 695C100.67 697.63 95.6 704 94.2 705.8L89.8 716.6L100.2 708.8C101.17 707.92 104.23 705.8 106 703.5C107.77 701.2 109.55 697.25 110.8 695C112.05 692.75 112.55 692.5 113.5 690C114.45 687.5 115.48 683.75 116.5 680C117.52 676.25 118.6 671.83 119.6 667.5C120.6 663.17 121.68 657.33 122.5 654C123.32 650.67 123.87 649.78 124.5 647.5C125.13 645.22 126 641.5 126.3 640.3Z" fill="#f20a0a" stroke="#f20a0a" stroke-width=".4"/>
<path d="M126.3 640.3C126 641.5 125.13 645.22 124.5 647.5C123.87 649.78 123.32 650.67 122.5 654C121.68 657.33 120.6 663.17 119.6 667.5C118.6 671.83 117.52 676.25 116.5 680C115.48 683.75 114.45 687.5 113.5 690C112.55 692.5 112.05 692.75 110.8 695C109.55 697.25 107.77 701.2 106 703.5C104.23 705.8 101.17 707.92 100.2 708.8L96.8 723.8C97.83 723.5 100.72 723.55 103 722C105.28 720.45 108.17 717.67 110.5 714.5C112.83 711.33 115.2 707.08 117 703C118.8 698.92 120.28 695.92 121.3 690C122.32 684.08 122.48 673.83 123.1 667.5C123.72 661.17 124.6 655.25 125 652C125.4 648.75 125.28 649.95 125.5 648C125.72 646.05 126.17 641.58 126.3 640.3Z" fill="#888888" stroke="#888888" stroke-width=".4"/>
<path d="M129 642.8C129.78 642.92 131.48 642.95 133.7 643.5C135.92 644.05 139.42 645.02 142.3 646.1C145.18 647.18 148.12 648.57 151 650C153.88 651.43 156.72 653.13 159.6 654.7C162.48 656.27 165.42 657.95 168.3 659.4C171.18 660.85 174.02 662.37 176.9 663.4C179.78 664.43 182.72 665.03 185.6 665.6C188.48 666.17 191.9 666.53 194.2 666.8C196.5 667.07 197.08 667.2 199.4 667.2C201.72 667.2 205.72 666.95 208.1 666.8C210.48 666.65 211.33 666.58 213.7 666.3C216.07 666.02 219.42 665.45 222.3 665.1C225.18 664.75 228.12 664.48 231 664.2C233.88 663.92 236.72 663.63 239.6 663.4C242.48 663.17 245.42 663 248.3 662.8C251.18 662.6 254.02 662.4 256.9 662.2C259.78 662 263.17 661.73 265.6 661.6C268.03 661.47 268.88 661.72 271.5 661.4C274.12 661.08 278.3 660.35 281.3 659.7C284.3 659.05 286.77 658.25 289.5 657.5C292.23 656.75 294.97 655.85 297.7 655.2C300.43 654.55 303.18 654.08 305.9 653.6C308.62 653.12 310.73 652.63 314 652.3C317.27 651.97 323.58 651.72 325.5 651.6L325.5 651.6C324.95 651.62 324.12 651.53 322.2 651.7C320.28 651.87 316.72 652.02 314 652.6C311.28 653.18 308.62 654.17 305.9 655.2C303.18 656.23 300.43 657.52 297.7 658.8C294.97 660.08 292.23 661.67 289.5 662.9C286.77 664.13 284.3 665.32 281.3 666.2C278.3 667.08 274.12 667.72 271.5 668.2C268.88 668.68 268.03 668.83 265.6 669.1C263.17 669.37 259.78 669.45 256.9 669.8C254.02 670.15 251.18 670.75 248.3 671.2C245.42 671.65 242.48 671.98 239.6 672.5C236.72 673.02 233.88 673.67 231 674.3C228.12 674.93 225.18 675.67 222.3 676.3C219.42 676.93 216.07 677.67 213.7 678.1C211.33 678.53 210.48 678.77 208.1 678.9C205.72 679.03 201.72 679.03 199.4 678.9C197.08 678.77 196.5 678.58 194.2 678.1C191.9 677.62 188.48 677.02 185.6 676C182.72 674.98 179.78 673.67 176.9 672C174.02 670.33 171.18 668.1 168.3 666C165.42 663.9 162.48 661.57 159.6 659.4C156.72 657.23 153.88 654.93 151 653C148.12 651.07 145.18 649.25 142.3 647.8C139.42 646.35 135.92 644.97 133.7 644.3C131.48 643.63 129.78 643.88 129 643.8Z" fill="#888888" stroke="#888888" stroke-width=".5"/>
<path d="M129 641.8C129.78 641.85 131.48 641.68 133.7 642.1C135.92 642.52 139.42 643.5 142.3 644.3C145.18 645.1 148.12 645.88 151 646.9C153.88 647.92 156.72 649.25 159.6 650.4C162.48 651.55 165.42 652.8 168.3 653.8C171.18 654.8 174.02 655.67 176.9 656.4C179.78 657.13 182.72 657.77 185.6 658.2C188.48 658.63 191.9 658.8 194.2 659C196.5 659.2 197.08 659.4 199.4 659.4C201.72 659.4 205.72 659.07 208.1 659C210.48 658.93 211.33 659.13 213.7 659C216.07 658.87 219.42 658.42 222.3 658.2C225.18 657.98 228.12 657.9 231 657.7C233.88 657.5 236.72 657.22 239.6 657C242.48 656.78 245.42 656.58 248.3 656.4C251.18 656.22 254.02 656.03 256.9 655.9C259.78 655.77 263.17 655.65 265.6 655.6C268.03 655.55 268.88 655.67 271.5 655.6C274.12 655.53 278.3 655.33 281.3 655.2C284.3 655.07 286.77 655.07 289.5 654.8C292.23 654.53 294.97 653.97 297.7 653.6C300.43 653.23 303.18 652.87 305.9 652.6C308.62 652.33 310.73 652.17 314 652C317.27 651.83 323.58 651.67 325.5 651.6L325.5 651.6C323.58 651.72 317.27 651.97 314 652.3C310.73 652.63 308.62 653.12 305.9 653.6C303.18 654.08 300.43 654.55 297.7 655.2C294.97 655.85 292.23 656.75 289.5 657.5C286.77 658.25 284.3 659.05 281.3 659.7C278.3 660.35 274.12 661.08 271.5 661.4C268.88 661.72 268.03 661.47 265.6 661.6C263.17 661.73 259.78 662 256.9 662.2C254.02 662.4 251.18 662.6 248.3 662.8C245.42 663 242.48 663.17 239.6 663.4C236.72 663.63 233.88 663.92 231 664.2C228.12 664.48 225.18 664.75 222.3 665.1C219.42 665.45 216.07 666.02 213.7 666.3C211.33 666.58 210.48 666.65 208.1 666.8C205.72 666.95 201.72 667.2 199.4 667.2C197.08 667.2 196.5 667.07 194.2 666.8C191.9 666.53 188.48 666.17 185.6 665.6C182.72 665.03 179.78 664.43 176.9 663.4C174.02 662.37 171.18 660.85 168.3 659.4C165.42 657.95 162.48 656.27 159.6 654.7C156.72 653.13 153.88 651.43 151 650C148.12 648.57 145.18 647.18 142.3 646.1C139.42 645.02 135.92 644.05 133.7 643.5C131.48 642.95 129.78 642.92 129 642.8Z" fill="#f20a0a" stroke="#f20a0a" stroke-width=".5"/>
<path d="M129 641C129.78 640.98 131.48 640.72 133.7 640.9C135.92 641.08 139.42 641.62 142.3 642.1C145.18 642.58 148.12 643.23 151 643.8C153.88 644.37 156.72 644.92 159.6 645.5C162.48 646.08 165.42 646.72 168.3 647.3C171.18 647.88 174.02 648.55 176.9 649C179.78 649.45 182.72 649.72 185.6 650C188.48 650.28 191.9 650.58 194.2 650.7C196.5 650.82 197.08 650.82 199.4 650.7C201.72 650.58 205.72 650.12 208.1 650C210.48 649.88 211.33 650.37 213.7 650C216.07 649.63 219.42 648.75 222.3 647.8C225.18 646.85 228.12 645.55 231 644.3C233.88 643.05 236.72 641.6 239.6 640.3C242.48 639 245.42 637.57 248.3 636.5C251.18 635.43 254.02 634.58 256.9 633.9C259.78 633.22 263.17 632.63 265.6 632.4C268.03 632.17 268.88 632.05 271.5 632.5C274.12 632.95 278.3 633.98 281.3 635.1C284.3 636.22 286.77 637.7 289.5 639.2C292.23 640.7 294.97 642.6 297.7 644.1C300.43 645.6 303.18 647.1 305.9 648.2C308.62 649.3 310.73 650.13 314 650.7C317.27 651.27 323.58 651.45 325.5 651.6L325.5 651.6C323.58 651.67 317.27 651.83 314 652C310.73 652.17 308.62 652.33 305.9 652.6C303.18 652.87 300.43 653.23 297.7 653.6C294.97 653.97 292.23 654.53 289.5 654.8C286.77 655.07 284.3 655.07 281.3 655.2C278.3 655.33 274.12 655.53 271.5 655.6C268.88 655.67 268.03 655.55 265.6 655.6C263.17 655.65 259.78 655.77 256.9 655.9C254.02 656.03 251.18 656.22 248.3 656.4C245.42 656.58 242.48 656.78 239.6 657C236.72 657.22 233.88 657.5 231 657.7C228.12 657.9 225.18 657.98 222.3 658.2C219.42 658.42 216.07 658.87 213.7 659C211.33 659.13 210.48 658.93 208.1 659C205.72 659.07 201.72 659.4 199.4 659.4C197.08 659.4 196.5 659.2 194.2 659C191.9 658.8 188.48 658.63 185.6 658.2C182.72 657.77 179.78 657.13 176.9 656.4C174.02 655.67 171.18 654.8 168.3 653.8C165.42 652.8 162.48 651.55 159.6 650.4C156.72 649.25 153.88 647.92 151 646.9C148.12 645.88 145.18 645.1 142.3 644.3C139.42 643.5 135.92 642.52 133.7 642.1C131.48 641.68 129.78 641.85 129 641.8Z" fill="#ff6a00" stroke="#ff6a00" stroke-width=".5"/>
<path d="M129 640.2C129.78 640.02 131.48 639.3 133.7 639.1C135.92 638.9 139.42 639.12 142.3 639C145.18 638.88 148.12 638.58 151 638.4C153.88 638.22 156.72 638.1 159.6 637.9C162.48 637.7 165.42 637.42 168.3 637.2C171.18 636.98 174.02 636.78 176.9 636.6C179.78 636.42 182.72 636.28 185.6 636.1C188.48 635.92 191.9 635.68 194.2 635.5C196.5 635.32 197.08 635.27 199.4 635C201.72 634.73 205.72 634.33 208.1 633.9C210.48 633.47 211.33 633.15 213.7 632.4C216.07 631.65 219.42 630.58 222.3 629.4C225.18 628.22 228.12 626.77 231 625.3C233.88 623.83 236.72 621.9 239.6 620.6C242.48 619.3 245.42 618.33 248.3 617.5C251.18 616.67 254.02 616.05 256.9 615.6C259.78 615.15 263.17 614.9 265.6 614.8C268.03 614.7 268.88 614.25 271.5 615C274.12 615.75 278.3 617.43 281.3 619.3C284.3 621.17 286.77 623.57 289.5 626.2C292.23 628.83 294.97 632.25 297.7 635.1C300.43 637.95 303.18 640.98 305.9 643.3C308.62 645.62 311.28 647.65 314 649C316.72 650.35 320.28 650.97 322.2 651.4C324.12 651.83 324.95 651.57 325.5 651.6L325.5 651.6C323.58 651.45 317.27 651.27 314 650.7C310.73 650.13 308.62 649.3 305.9 648.2C303.18 647.1 300.43 645.6 297.7 644.1C294.97 642.6 292.23 640.7 289.5 639.2C286.77 637.7 284.3 636.22 281.3 635.1C278.3 633.98 274.12 632.95 271.5 632.5C268.88 632.05 268.03 632.17 265.6 632.4C263.17 632.63 259.78 633.22 256.9 633.9C254.02 634.58 251.18 635.43 248.3 636.5C245.42 637.57 242.48 639 239.6 640.3C236.72 641.6 233.88 643.05 231 644.3C228.12 645.55 225.18 646.85 222.3 647.8C219.42 648.75 216.07 649.63 213.7 650C211.33 650.37 210.48 649.88 208.1 650C205.72 650.12 201.72 650.58 199.4 650.7C197.08 650.82 196.5 650.82 194.2 650.7C191.9 650.58 188.48 650.28 185.6 650C182.72 649.72 179.78 649.45 176.9 649C174.02 648.55 171.18 647.88 168.3 647.3C165.42 646.72 162.48 646.08 159.6 645.5C156.72 644.92 153.88 644.37 151 643.8C148.12 643.23 145.18 642.58 142.3 642.1C139.42 641.62 135.92 641.08 133.7 640.9C131.48 640.72 129.78 640.98 129 641Z" fill="#ffca08" stroke="#ffca08" stroke-width=".5"/>
<path d="M129 639.5C129.78 639.3 131.48 638.65 133.7 638.3C135.92 637.95 139.42 637.8 142.3 637.4C145.18 637 148.12 636.58 151 635.9C153.88 635.22 156.72 634.22 159.6 633.3C162.48 632.38 165.42 631.32 168.3 630.4C171.18 629.48 174.02 628.45 176.9 627.8C179.78 627.15 182.72 626.83 185.6 626.5C188.48 626.17 191.9 625.98 194.2 625.8C196.5 625.62 197.08 625.63 199.4 625.4C201.72 625.17 205.72 624.7 208.1 624.4C210.48 624.1 211.33 624.07 213.7 623.6C216.07 623.13 219.42 622.38 222.3 621.6C225.18 620.82 228.12 619.73 231 618.9C233.88 618.07 236.72 617.27 239.6 616.6C242.48 615.93 245.42 615.33 248.3 614.9C251.18 614.47 254.02 614.17 256.9 614C259.78 613.83 263.17 613.83 265.6 613.9C268.03 613.97 268.88 614 271.5 614.4C274.12 614.8 278.3 615.3 281.3 616.3C284.3 617.3 286.77 618.9 289.5 620.4C292.23 621.9 294.97 623.67 297.7 625.3C300.43 626.93 303.18 628.57 305.9 630.2C308.62 631.83 311.28 633.6 314 635.1C316.72 636.6 319.47 638.02 322.2 639.2C324.93 640.38 327.67 641.38 330.4 642.2C333.13 643.02 336.45 643.65 338.6 644.1C340.75 644.55 342.52 644.77 343.3 644.9L343.3 651C342.52 650.88 340.75 650.68 338.6 650.3C336.45 649.92 333.13 649.52 330.4 648.7C327.67 647.88 324.93 646.7 322.2 645.4C319.47 644.1 316.72 642.62 314 640.9C311.28 639.18 308.62 637.07 305.9 635.1C303.18 633.13 300.43 631.13 297.7 629.1C294.97 627.07 292.23 624.75 289.5 622.9C286.77 621.05 284.3 619.32 281.3 618C278.3 616.68 274.12 615.53 271.5 615C268.88 614.47 268.03 614.7 265.6 614.8C263.17 614.9 259.78 615.15 256.9 615.6C254.02 616.05 251.18 616.67 248.3 617.5C245.42 618.33 242.48 619.3 239.6 620.6C236.72 621.9 233.88 623.83 231 625.3C228.12 626.77 225.18 628.22 222.3 629.4C219.42 630.58 216.07 631.65 213.7 632.4C211.33 633.15 210.48 633.47 208.1 633.9C205.72 634.33 201.72 634.73 199.4 635C197.08 635.27 196.5 635.32 194.2 635.5C191.9 635.68 188.48 635.92 185.6 636.1C182.72 636.28 179.78 636.42 176.9 636.6C174.02 636.78 171.18 636.98 168.3 637.2C165.42 637.42 162.48 637.7 159.6 637.9C156.72 638.1 153.88 638.22 151 638.4C148.12 638.58 145.18 638.88 142.3 639C139.42 639.12 135.92 638.9 133.7 639.1C131.48 639.3 129.78 640.02 129 640.2Z" fill="#b4f541" stroke="#b4f541" stroke-width=".5"/>
<path d="M129 638.8C129.78 638.57 131.48 637.95 133.7 637.4C135.92 636.85 139.42 636.47 142.3 635.5C145.18 634.53 148.12 633.08 151 631.6C153.88 630.12 156.72 628.4 159.6 626.6C162.48 624.8 165.42 622.57 168.3 620.8C171.18 619.03 174.02 617.25 176.9 616C179.78 614.75 182.72 613.97 185.6 613.3C188.48 612.63 191.9 612.28 194.2 612C196.5 611.72 197.08 611.67 199.4 611.6C201.72 611.53 205.72 611.53 208.1 611.6C210.48 611.67 211.33 611.93 213.7 612C216.07 612.07 219.42 611.95 222.3 612C225.18 612.05 228.12 612.18 231 612.3C233.88 612.42 236.72 612.58 239.6 612.7C242.48 612.82 245.23 612.92 248.3 613C251.37 613.08 255.12 613.17 258 613.2C260.88 613.23 263.35 613.22 265.6 613.2C267.85 613.18 268.88 612.98 271.5 613.1C274.12 613.22 278.3 613.37 281.3 613.9C284.3 614.43 286.77 615.4 289.5 616.3C292.23 617.2 294.97 618.33 297.7 619.3C300.43 620.27 303.18 621.18 305.9 622.1C308.62 623.02 311.28 623.9 314 624.8C316.72 625.7 319.47 626.73 322.2 627.5C324.93 628.27 327.67 628.8 330.4 629.4C333.13 630 336.45 630.68 338.6 631.1C340.75 631.52 342.52 631.77 343.3 631.9L343.3 644.9C342.52 644.77 340.75 644.55 338.6 644.1C336.45 643.65 333.13 643.02 330.4 642.2C327.67 641.38 324.93 640.38 322.2 639.2C319.47 638.02 316.72 636.6 314 635.1C311.28 633.6 308.62 631.83 305.9 630.2C303.18 628.57 300.43 626.93 297.7 625.3C294.97 623.67 292.23 621.9 289.5 620.4C286.77 618.9 284.3 617.3 281.3 616.3C278.3 615.3 274.12 614.8 271.5 614.4C268.88 614 268.03 613.97 265.6 613.9C263.17 613.83 259.78 613.83 256.9 614C254.02 614.17 251.18 614.47 248.3 614.9C245.42 615.33 242.48 615.93 239.6 616.6C236.72 617.27 233.88 618.07 231 618.9C228.12 619.73 225.18 620.82 222.3 621.6C219.42 622.38 216.07 623.13 213.7 623.6C211.33 624.07 210.48 624.1 208.1 624.4C205.72 624.7 201.72 625.17 199.4 625.4C197.08 625.63 196.5 625.62 194.2 625.8C191.9 625.98 188.48 626.17 185.6 626.5C182.72 626.83 179.78 627.15 176.9 627.8C174.02 628.45 171.18 629.48 168.3 630.4C165.42 631.32 162.48 632.38 159.6 633.3C156.72 634.22 153.88 635.22 151 635.9C148.12 636.58 145.18 637 142.3 637.4C139.42 637.8 135.92 637.95 133.7 638.3C131.48 638.65 129.78 639.3 129 639.5Z" fill="#48eeb8" stroke="#48eeb8" stroke-width=".5"/>
<path d="M129 638C129.78 637.75 131.48 637.27 133.7 636.5C135.92 635.73 139.42 634.7 142.3 633.4C145.18 632.1 148.12 630.48 151 628.7C153.88 626.92 156.72 624.8 159.6 622.7C162.48 620.6 165.42 618.12 168.3 616.1C171.18 614.08 174.02 612.15 176.9 610.6C179.78 609.05 182.72 607.82 185.6 606.8C188.48 605.78 191.9 604.97 194.2 604.5C196.5 604.03 197.08 604 199.4 604C201.72 604 205.72 604.22 208.1 604.5C210.48 604.78 211.33 605.2 213.7 605.7C216.07 606.2 219.42 606.83 222.3 607.5C225.18 608.17 228.12 609.05 231 609.7C233.88 610.35 236.72 610.9 239.6 611.4C242.48 611.9 245.23 612.4 248.3 612.7C251.37 613 256.38 613.12 258 613.2L258 613.2C256.38 613.17 251.37 613.08 248.3 613C245.23 612.92 242.48 612.82 239.6 612.7C236.72 612.58 233.88 612.42 231 612.3C228.12 612.18 225.18 612.05 222.3 612C219.42 611.95 216.07 612.07 213.7 612C211.33 611.93 210.48 611.67 208.1 611.6C205.72 611.53 201.72 611.53 199.4 611.6C197.08 611.67 196.5 611.72 194.2 612C191.9 612.28 188.48 612.63 185.6 613.3C182.72 613.97 179.78 614.75 176.9 616C174.02 617.25 171.18 619.03 168.3 620.8C165.42 622.57 162.48 624.8 159.6 626.6C156.72 628.4 153.88 630.12 151 631.6C148.12 633.08 145.18 634.53 142.3 635.5C139.42 636.47 135.92 636.85 133.7 637.4C131.48 637.95 129.78 638.57 129 638.8Z" fill="#17cdf8" stroke="#17cdf8" stroke-width=".5"/>
<path d="M145 19.5V186.5" stroke="#d4d4d4" stroke-width="2"/><path d="M208 19.5V186.5" stroke="#7a7a7a" stroke-opacity=".62" stroke-width="2.2"/><path d="M273.3 19.5V186.5" stroke="#7a7a7a" stroke-opacity=".62" stroke-width="2.2"/><path d="M340.8 19.5V186.5" stroke="#7a7a7a" stroke-opacity=".62" stroke-width="2.2"/>
<text x="14.2" y="13.8" font-size="11" text-anchor="start">Patient 1</text>
<text x="80.2" y="200" font-size="10.85" text-anchor="middle">Residual mature</text>
<text x="80.2" y="212.9" font-size="10.85" text-anchor="middle">dysplastic cells</text>
<text x="208" y="200.4" font-size="10.85" text-anchor="middle">Dysplastic</text>
<text x="208" y="213.6" font-size="10.85" text-anchor="middle">cells</text>
<text x="208" y="225.6" font-size="9.8" text-anchor="middle">(Mean)</text>
<text x="273" y="200.4" font-size="10.85" text-anchor="middle">Leukemic</text>
<text x="273" y="213.6" font-size="10.85" text-anchor="middle">cells</text>
<text x="273" y="225.6" font-size="9.8" text-anchor="middle">(Diagnosis)</text>
<text x="340.8" y="200.4" font-size="10.85" text-anchor="middle">Tumor</text>
<text x="340.8" y="213.6" font-size="10.85" text-anchor="middle">resistant cells</text>
<text x="340.8" y="225.6" font-size="9.8" text-anchor="middle">(MRD)</text>
<linearGradient id="hb1" x1="11.5" x2="340.8" y1="0" y2="0" gradientUnits="userSpaceOnUse"><stop offset="0" stop-color="#d8d8d8"/><stop offset=".1" stop-color="#acacac"/><stop offset=".5" stop-color="#a0a0a0"/><stop offset=".9" stop-color="#acacac"/><stop offset="1" stop-color="#d8d8d8"/></linearGradient><path d="M11.5 227.85C13.7 228.36 20.29 230.12 24.68 230.94C29.08 231.75 31.83 232.26 37.87 232.72C43.91 233.17 51.6 233.66 60.94 233.66C70.28 233.66 82.36 233.19 93.9 232.73C105.44 232.26 120.82 231 130.16 230.86C139.49 230.72 144.16 231.3 149.93 231.9C155.7 232.49 160.37 233.47 164.76 234.44C169.16 235.4 172.46 237.7 176.3 237.7C180.14 237.7 183.43 235.4 187.81 234.44C192.2 233.47 196.86 232.49 202.62 231.9C208.38 231.3 213.04 230.72 222.36 230.86C231.68 231 247.04 232.26 258.55 232.73C270.06 233.19 282.13 233.66 291.45 233.66C300.77 233.66 308.45 233.17 314.48 232.72C320.51 232.26 323.25 231.75 327.64 230.94C332.03 230.12 338.61 228.36 340.8 227.85L340.8 228.15C338.61 228.88 332.03 231.34 327.64 232.54C323.25 233.73 320.51 234.63 314.48 235.32C308.45 236.01 300.77 236.59 291.45 236.66C282.13 236.73 270.06 236.19 258.55 235.73C247.04 235.26 231.68 234 222.36 233.86C213.04 233.72 208.38 234.32 202.62 234.9C196.86 235.48 192.2 236.44 187.81 237.34C183.43 238.24 180.14 240.3 176.3 240.3C172.46 240.3 169.16 238.24 164.76 237.34C160.37 236.44 155.7 235.48 149.93 234.9C144.16 234.32 139.49 233.72 130.16 233.86C120.82 234 105.44 235.26 93.9 235.73C82.36 236.19 70.28 236.73 60.94 236.66C51.6 236.59 43.91 236.01 37.87 235.32C31.83 234.63 29.08 233.73 24.68 232.54C20.29 231.34 13.7 228.88 11.5 228.15Z" fill="url(#hb1)"/>
<text x="178.2" y="251.8" font-size="9.8" text-anchor="middle">110 mutations detected in all cells</text>
<rect x="349.3" y="19.3" width="14.4" height="14.5" fill="#ff6a00"/>
<text x="364.3" y="31.5" font-size="11" text-anchor="start">HRNR</text>
<rect x="349.3" y="33.5" width="14.4" height="14.5" fill="#f20a0a"/>
<text x="364.3" y="45.55" font-size="11" text-anchor="start">MUC2</text>
<rect x="349.3" y="47.7" width="14.4" height="14.5" fill="#888888"/>
<text x="364.3" y="59.6" font-size="11" text-anchor="start">ZNF587</text>
<path d="M409.4 19.2C410.9 21.07 411.2 23.69 411.2 26.68L411.2 33.72C411.2 37.83 411.96 40.3 413.1 41.2C411.96 42.1 411.2 44.57 411.2 48.68L411.2 55.72C411.2 58.71 410.9 61.33 410 63.2" fill="none" stroke="#b4b4b4" stroke-width="1.4" stroke-linecap="round" stroke-linejoin="round"/>
<text x="451" y="26.7" font-size="9.7" text-anchor="middle">Mutations</text>
<text x="451" y="38.1" font-size="9.7" text-anchor="middle">undetectable in</text>
<text x="451" y="49.5" font-size="9.7" text-anchor="middle">one or more cell</text>
<text x="451" y="60.9" font-size="9.7" text-anchor="middle">types</text>
<text transform="translate(24.6 70.6) rotate(-61.9)" font-size="10.3" textLength="50.3" lengthAdjust="spacingAndGlyphs">Neutrophils</text>
<text transform="translate(54.3 163.2) rotate(-114.3)" font-size="10.3" textLength="52" lengthAdjust="spacingAndGlyphs">Erythroblasts</text>
<text x="14.2" y="277.4" font-size="11" text-anchor="start">Patient 2</text>
<text x="78.9" y="468.5" font-size="10.85" text-anchor="middle">Residual mature</text>
<text x="78.9" y="481.4" font-size="10.85" text-anchor="middle">dysplastic cells</text>
<text x="213" y="467.8" font-size="10.85" text-anchor="middle">Dysplastic</text>
<text x="213" y="481" font-size="10.85" text-anchor="middle">cells</text>
<text x="213" y="493" font-size="9.8" text-anchor="middle">(Mean)</text>
<text x="284.5" y="467.8" font-size="10.85" text-anchor="middle">Leukemic</text>
<text x="284.5" y="481" font-size="10.85" text-anchor="middle">cells</text>
<text x="284.5" y="493" font-size="9.8" text-anchor="middle">(Baseline)</text>
<text x="343.6" y="467.8" font-size="10.85" text-anchor="middle">Tumor</text>
<text x="343.6" y="481" font-size="10.85" text-anchor="middle">resistant cells</text>
<text x="343.6" y="493" font-size="9.8" text-anchor="middle">(MRD)</text>
<linearGradient id="hb2" x1="13.8" x2="345" y1="0" y2="0" gradientUnits="userSpaceOnUse"><stop offset="0" stop-color="#d8d8d8"/><stop offset=".1" stop-color="#acacac"/><stop offset=".5" stop-color="#a0a0a0"/><stop offset=".9" stop-color="#acacac"/><stop offset="1" stop-color="#d8d8d8"/></linearGradient><path d="M13.8 496.15C15.99 496.73 22.55 498.72 26.92 499.64C31.29 500.56 34.03 501.16 40.04 501.68C46.05 502.19 53.71 502.74 63 502.74C72.29 502.75 84.32 502.22 95.8 501.71C107.28 501.19 122.59 499.79 131.88 499.63C141.17 499.48 145.82 500.12 151.56 500.78C157.3 501.45 161.95 502.53 166.32 503.6C170.69 504.67 173.94 507.09 177.8 507.2C181.66 507.31 185.05 505.12 189.5 504.25C193.96 503.37 198.7 502.49 204.55 501.96C210.4 501.42 215.14 500.9 224.62 501.02C234.09 501.15 249.7 502.28 261.4 502.7C273.1 503.12 285.37 503.54 294.84 503.54C304.31 503.55 312.12 503.11 318.25 502.72C324.38 502.32 327.17 501.87 331.62 501.16C336.08 500.45 342.77 498.9 345 498.45L345 498.75C342.77 499.42 336.08 501.67 331.62 502.76C327.17 503.86 324.38 504.69 318.25 505.32C312.12 505.95 304.31 506.48 294.84 506.54C285.37 506.61 273.1 506.12 261.4 505.7C249.7 505.28 234.09 504.15 224.62 504.02C215.14 503.9 210.4 504.44 204.55 504.96C198.7 505.48 193.96 506.34 189.5 507.15C185.05 507.96 181.66 509.91 177.8 509.8C173.94 509.69 170.69 507.5 166.32 506.5C161.95 505.49 157.3 504.43 151.56 503.78C145.82 503.14 141.17 502.48 131.88 502.63C122.59 502.79 107.28 504.19 95.8 504.71C84.32 505.22 72.29 505.81 63 505.74C53.71 505.67 46.05 505.03 40.04 504.28C34.03 503.53 31.29 502.55 26.92 501.24C22.55 499.94 15.99 497.25 13.8 496.45Z" fill="url(#hb2)"/>
<text x="179.2" y="521.6" font-size="9.8" text-anchor="middle">115 mutations detected in all cells</text>
<rect x="353.3" y="284" width="14.2" height="13.8" fill="#b4f03c"/>
<text x="368.5" y="295.3" font-size="11" text-anchor="start">UBXN11</text>
<rect x="353.3" y="297.5" width="14.2" height="13.8" fill="#ffca08"/>
<text x="368.5" y="308.85" font-size="11" text-anchor="start">UBXN11</text>
<rect x="353.3" y="311" width="14.2" height="13.8" fill="#ff6a00"/>
<text x="368.5" y="322.4" font-size="11" text-anchor="start">MUC16</text>
<rect x="353.3" y="324.5" width="14.2" height="13.8" fill="#f20a0a"/>
<text x="368.5" y="335.95" font-size="11" text-anchor="start">FLG</text>
<rect x="353.3" y="338" width="14.2" height="13.8" fill="#888888"/>
<text x="368.5" y="349.5" font-size="11" text-anchor="start">CFAP46</text>
<path d="M420.3 284C421.4 286.5 421.7 290 421.7 294L421.7 307.35C421.7 312.85 422.7 316.15 424.2 317.35C422.7 318.55 421.7 321.85 421.7 327.35L421.7 340.7C421.7 344.7 421.4 348.2 420.3 350.7" fill="none" stroke="#b4b4b4" stroke-width="1.5" stroke-linecap="round" stroke-linejoin="round"/>
<text x="460.3" y="300.9" font-size="9.7" text-anchor="middle">Mutations</text>
<text x="460.3" y="312.65" font-size="9.7" text-anchor="middle">undetectable in</text>
<text x="460.3" y="324.4" font-size="9.7" text-anchor="middle">one or more cell</text>
<text x="460.3" y="336.15" font-size="9.7" text-anchor="middle">types</text>
<text transform="translate(23 336.3) rotate(-61.2)" font-size="10.1">Neutrophils</text>
<text transform="translate(55.2 439.5) rotate(-122.6)" font-size="9.8">Monocytes</text>
<text x="14.2" y="547.7" font-size="11" text-anchor="start">Patient 3</text>
<text x="70.4" y="743" font-size="10.85" text-anchor="middle">Residual mature</text>
<text x="70.4" y="755.9" font-size="10.85" text-anchor="middle">dysplastic cells</text>
<text x="199.3" y="738.5" font-size="10.85" text-anchor="middle">Dysplastic</text>
<text x="199.3" y="751.7" font-size="10.85" text-anchor="middle">cells</text>
<text x="199.3" y="763.7" font-size="9.8" text-anchor="middle">(Mean)</text>
<text x="271" y="738.5" font-size="10.85" text-anchor="middle">Leukemic</text>
<text x="271" y="751.7" font-size="10.85" text-anchor="middle">cells</text>
<text x="271" y="763.7" font-size="9.8" text-anchor="middle">(Baseline)</text>
<text x="344.2" y="738.5" font-size="10.85" text-anchor="middle">Tumor</text>
<text x="344.2" y="751.7" font-size="10.85" text-anchor="middle">resistant cells</text>
<text x="344.2" y="763.7" font-size="9.8" text-anchor="middle">(MRD)</text>
<linearGradient id="hb3" x1="23.8" x2="334.4" y1="0" y2="0" gradientUnits="userSpaceOnUse"><stop offset="0" stop-color="#d8d8d8"/><stop offset=".1" stop-color="#acacac"/><stop offset=".5" stop-color="#a0a0a0"/><stop offset=".9" stop-color="#acacac"/><stop offset="1" stop-color="#d8d8d8"/></linearGradient><path d="M23.8 768.55C25.87 769.02 32.09 770.65 36.24 771.4C40.39 772.15 42.98 772.62 48.68 773.04C54.38 773.45 61.64 773.91 70.45 773.9C79.26 773.9 90.66 773.47 101.55 773.03C112.44 772.59 126.95 771.41 135.76 771.28C144.57 771.15 148.98 771.69 154.42 772.25C159.86 772.81 164.27 773.73 168.42 774.63C172.56 775.54 175.68 777.61 179.3 777.7C182.92 777.79 186.02 775.94 190.16 775.2C194.29 774.46 198.69 773.72 204.12 773.27C209.54 772.82 213.94 772.38 222.73 772.49C231.52 772.59 245.99 773.55 256.85 773.9C267.71 774.25 279.08 774.6 287.87 774.6C296.66 774.61 303.9 774.26 309.58 773.94C315.27 773.63 317.86 773.28 321.99 772.72C326.13 772.15 332.33 770.91 334.4 770.55L334.4 770.85C332.33 771.43 326.13 773.37 321.99 774.32C317.86 775.27 315.27 775.99 309.58 776.54C303.9 777.09 296.66 777.54 287.87 777.6C279.08 777.66 267.71 777.25 256.85 776.9C245.99 776.55 231.52 775.59 222.73 775.49C213.94 775.38 209.54 775.84 204.12 776.27C198.69 776.71 194.29 777.43 190.16 778.1C186.02 778.77 182.92 780.39 179.3 780.3C175.68 780.21 172.56 778.38 168.42 777.53C164.27 776.69 159.86 775.8 154.42 775.25C148.98 774.71 144.57 774.15 135.76 774.28C126.95 774.41 112.44 775.59 101.55 776.03C90.66 776.47 79.26 776.97 70.45 776.9C61.64 776.84 54.38 776.29 48.68 775.64C42.98 774.98 40.39 774.13 36.24 773C32.09 771.87 25.87 769.54 23.8 768.85Z" fill="url(#hb3)"/>
<text x="180.5" y="794.8" font-size="9.8" text-anchor="middle">101 mutations detected in all cells</text>
<rect x="357.5" y="554.8" width="14.3" height="14.57" fill="#17cdf8"/>
<text x="372.5" y="565.9" font-size="11" text-anchor="start">AHNAK2</text>
<rect x="357.5" y="569.07" width="14.3" height="14.57" fill="#48eeb8"/>
<text x="372.5" y="580.4" font-size="11" text-anchor="start">KIR2DL3</text>
<rect x="357.5" y="583.34" width="14.3" height="14.57" fill="#b4f541"/>
<text x="372.5" y="594.9" font-size="11" text-anchor="start">KRTAP9-4</text>
<rect x="357.5" y="597.61" width="14.3" height="14.57" fill="#ffca08"/>
<text x="372.5" y="609.4" font-size="11" text-anchor="start">NBPF1</text>
<rect x="357.5" y="611.88" width="14.3" height="14.57" fill="#ff6a00"/>
<text x="372.5" y="623.9" font-size="11" text-anchor="start">GGT1</text>
<rect x="357.5" y="626.15" width="14.3" height="14.57" fill="#f20a0a"/>
<text x="372.5" y="638.4" font-size="11" text-anchor="start">POTEI</text>
<rect x="357.5" y="640.42" width="14.3" height="14.57" fill="#888888"/>
<text x="372.5" y="652.9" font-size="11" text-anchor="start">GGTLC2</text>
<path d="M427.6 557C431.7 559.5 432 563 432 567L432 596.5C432 602 433.8 605.3 436.5 606.5C433.8 607.7 432 611 432 616.5L432 646C432 650 431.7 653.5 426.8 656" fill="none" stroke="#b4b4b4" stroke-width="2" stroke-linecap="round" stroke-linejoin="round"/>
<text x="473" y="590.8" font-size="9.7" text-anchor="middle">Mutations</text>
<text x="473" y="602.5" font-size="9.7" text-anchor="middle">undetectable in</text>
<text x="473" y="614.2" font-size="9.7" text-anchor="middle">one or more cell</text>
<text x="473" y="625.9" font-size="9.7" text-anchor="middle">types</text>
<text transform="translate(47.4 587.2) rotate(-37)" font-size="9.8">Neutrophils</text>
<text transform="translate(24.4 661) rotate(-90)" font-size="9.6">Monocytes</text>
<text transform="translate(81.6 719.9) rotate(-139.7)" font-size="9.9">Erythroblasts</text>
<path d="M142.7 283.5V453.5" stroke="#d4d4d4" stroke-width="2"/><path d="M213 283.5V453.5" stroke="#7a7a7a" stroke-opacity=".62" stroke-width="2.2"/><path d="M284.3 283.5V453.5" stroke="#7a7a7a" stroke-opacity=".62" stroke-width="2.2"/><path d="M343.8 283.5V453.5" stroke="#7a7a7a" stroke-opacity=".62" stroke-width="2.2"/>
<path d="M127.4 553.5V725.0" stroke="#d4d4d4" stroke-width="2"/><path d="M199.5 553.5V725.0" stroke="#7a7a7a" stroke-opacity=".62" stroke-width="2.2"/><path d="M272 553.5V725.0" stroke="#7a7a7a" stroke-opacity=".62" stroke-width="2.2"/><path d="M344.3 553.5V725.0" stroke="#7a7a7a" stroke-opacity=".62" stroke-width="2.2"/>
</svg>
</body></html>
